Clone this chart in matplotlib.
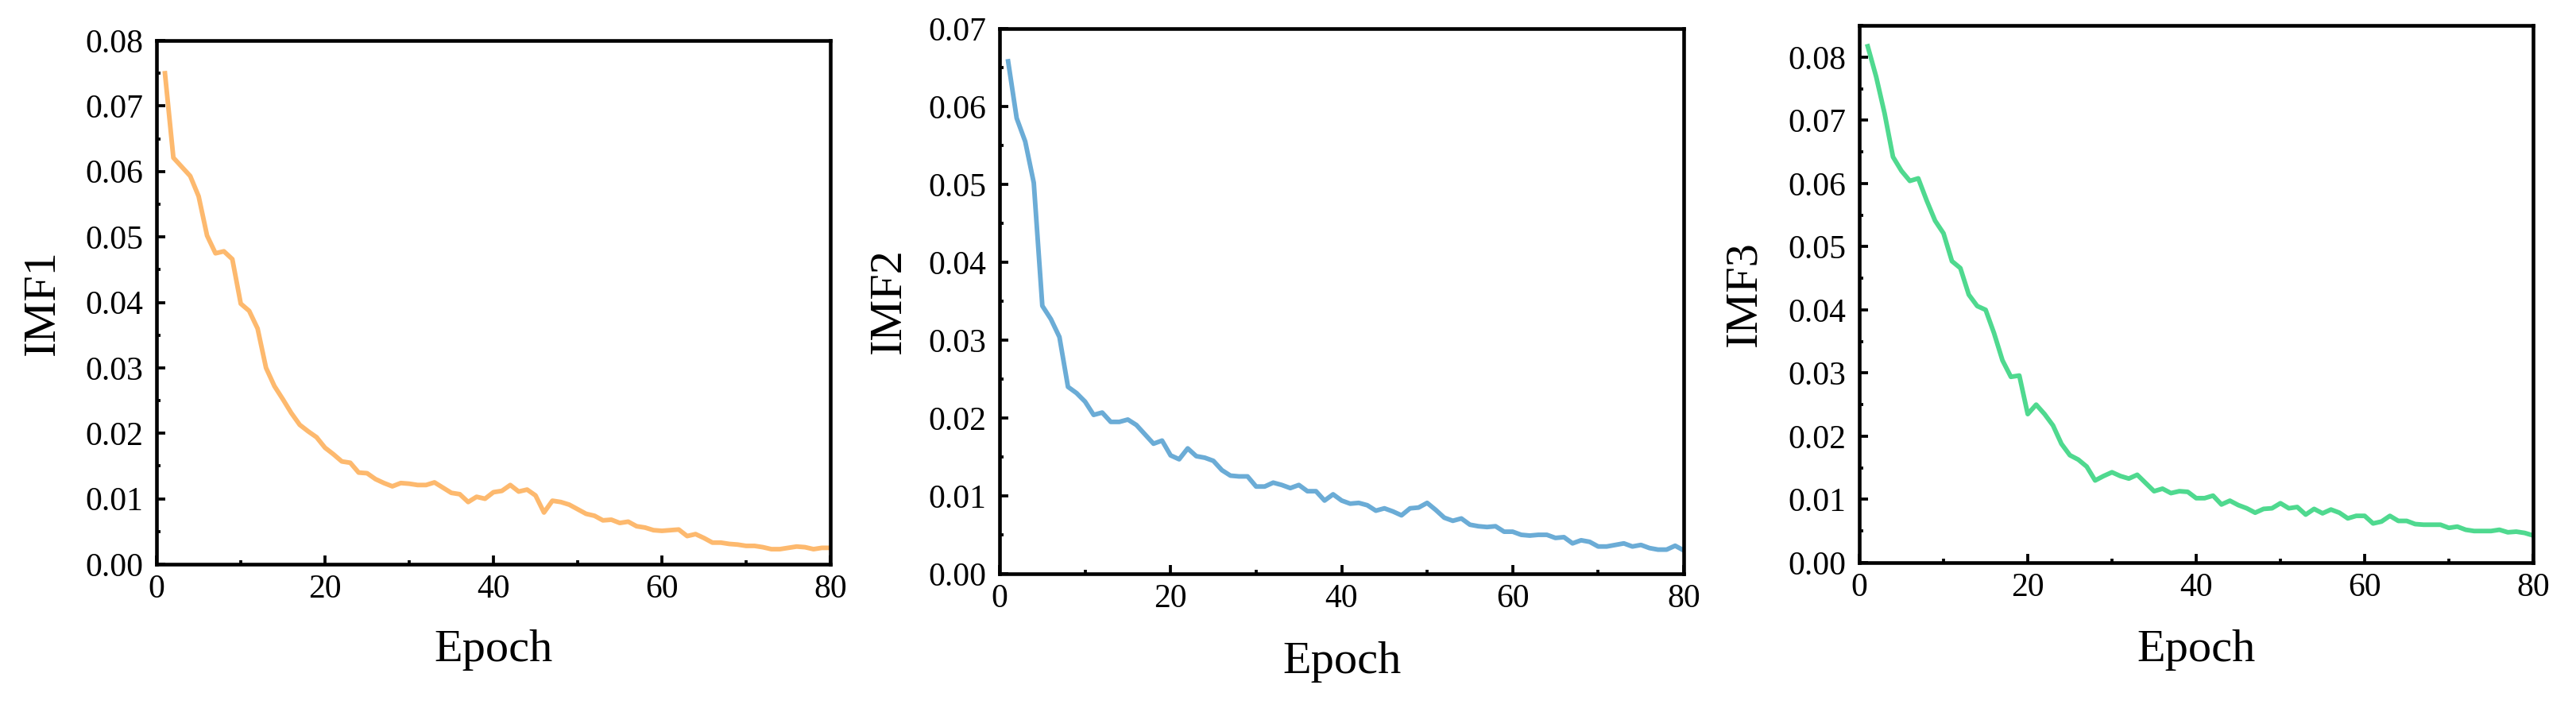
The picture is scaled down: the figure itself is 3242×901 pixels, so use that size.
import numpy as np
import matplotlib
matplotlib.use("Agg")
import matplotlib.pyplot as plt
from matplotlib.ticker import MultipleLocator, FormatStrFormatter

plt.rcParams['font.family'] = ['Liberation Serif', 'DejaVu Serif']

epochs = np.arange(1, 81)

imf1 = [0.0750, 0.0621, 0.0607, 0.0593, 0.0562, 0.0502, 0.0475, 0.0478, 0.0466, 0.0398,
        0.0387, 0.0360, 0.0300, 0.0272, 0.0252, 0.0231, 0.0213, 0.0203, 0.0194, 0.0178,
        0.0168, 0.0157, 0.0155, 0.0140, 0.0139, 0.0130, 0.0124, 0.0119, 0.0124, 0.0123,
        0.0121, 0.0121, 0.0125, 0.0117, 0.0109, 0.0107, 0.0095, 0.0103, 0.0100, 0.0110,
        0.0112, 0.0121, 0.0111, 0.0114, 0.0105, 0.0079, 0.0097, 0.0095, 0.0091, 0.0084,
        0.0077, 0.0074, 0.0067, 0.0068, 0.0063, 0.0065, 0.0058, 0.0056, 0.0052, 0.0051,
        0.0052, 0.0053, 0.0043, 0.0046, 0.0040, 0.0033, 0.0033, 0.0031, 0.0030, 0.0028,
        0.0028, 0.0026, 0.0023, 0.0023, 0.0025, 0.0027, 0.0026, 0.0023, 0.0025, 0.0025]

imf2 = [0.0658, 0.0585, 0.0555, 0.0502, 0.0344, 0.0327, 0.0304, 0.0240, 0.0232, 0.0221,
        0.0204, 0.0207, 0.0195, 0.0195, 0.0198, 0.0191, 0.0179, 0.0167, 0.0171, 0.0152,
        0.0147, 0.0161, 0.0151, 0.0149, 0.0145, 0.0133, 0.0126, 0.0125, 0.0125, 0.0112,
        0.0112, 0.0117, 0.0114, 0.0110, 0.0114, 0.0106, 0.0106, 0.0094, 0.0102, 0.0094,
        0.0090, 0.0091, 0.0088, 0.0081, 0.0084, 0.0080, 0.0075, 0.0084, 0.0085, 0.0091,
        0.0082, 0.0072, 0.0068, 0.0071, 0.0063, 0.0061, 0.0060, 0.0061, 0.0054, 0.0054,
        0.0050, 0.0049, 0.0050, 0.0050, 0.0046, 0.0047, 0.0039, 0.0043, 0.0041, 0.0035,
        0.0035, 0.0037, 0.0039, 0.0035, 0.0037, 0.0033, 0.0031, 0.0031, 0.0036, 0.0030]

imf3 = [0.0817, 0.0769, 0.0711, 0.0642, 0.0620, 0.0604, 0.0608, 0.0573, 0.0541, 0.0521,
        0.0477, 0.0466, 0.0424, 0.0406, 0.0400, 0.0363, 0.0320, 0.0294, 0.0296, 0.0235,
        0.0250, 0.0235, 0.0217, 0.0188, 0.0170, 0.0163, 0.0152, 0.0130, 0.0137, 0.0143,
        0.0137, 0.0133, 0.0139, 0.0126, 0.0113, 0.0117, 0.0110, 0.0113, 0.0112, 0.0102,
        0.0102, 0.0106, 0.0092, 0.0098, 0.0091, 0.0086, 0.0079, 0.0085, 0.0086, 0.0094,
        0.0086, 0.0088, 0.0076, 0.0085, 0.0078, 0.0084, 0.0079, 0.0070, 0.0074, 0.0074,
        0.0062, 0.0065, 0.0074, 0.0066, 0.0066, 0.0061, 0.0060, 0.0060, 0.0060, 0.0055,
        0.0057, 0.0052, 0.0050, 0.0050, 0.0050, 0.0052, 0.0048, 0.0049, 0.0047, 0.0043]

names = ["IMF1", "IMF2", "IMF3"]
colors = ["#FDB96E", "#6BACD6", "#4FD98F"]
ymax = [0.08, 0.07, 0.085]

W, H = 3242, 901
# axes boxes in pixels: left, top, right, bottom
boxes = [(197, 51, 1045, 710), (1258, 36, 2119, 722), (2340, 32, 3188, 708)]
ylab_x = [-0.138, -0.131, -0.140]

fig = plt.figure(figsize=(W / 300, H / 300), dpi=300)

for i, series in enumerate([imf1, imf2, imf3]):
    l, t, r, b = boxes[i]
    ax = fig.add_axes([l / W, 1 - b / H, (r - l) / W, (b - t) / H])
    ax.plot(epochs, series, color=colors[i], lw=1.4)
    ax.set_xlim(0, 80)
    ax.set_ylim(0, ymax[i])
    ax.xaxis.set_major_locator(MultipleLocator(20))
    ax.xaxis.set_minor_locator(MultipleLocator(10))
    ax.yaxis.set_major_locator(MultipleLocator(0.01))
    ax.yaxis.set_minor_locator(MultipleLocator(0.005))
    ax.yaxis.set_major_formatter(FormatStrFormatter('%.2f'))
    ax.tick_params(which='both', direction='in', top=False, right=False, width=0.9)
    ax.tick_params(which='major', length=2.7, labelsize=10)
    ax.tick_params(which='minor', length=1.1)
    ax.tick_params(axis='x', pad=3)
    ax.tick_params(axis='y', pad=4)
    for s in ax.spines.values():
        s.set_linewidth(1.1)
    ax.set_xlabel("Epoch", fontsize=14)
    ax.set_ylabel(names[i], fontsize=14)
    ax.xaxis.set_label_coords(0.5, -0.124)
    ax.yaxis.set_label_coords(ylab_x[i], 0.5)

fig.savefig("out.png", dpi=300)
